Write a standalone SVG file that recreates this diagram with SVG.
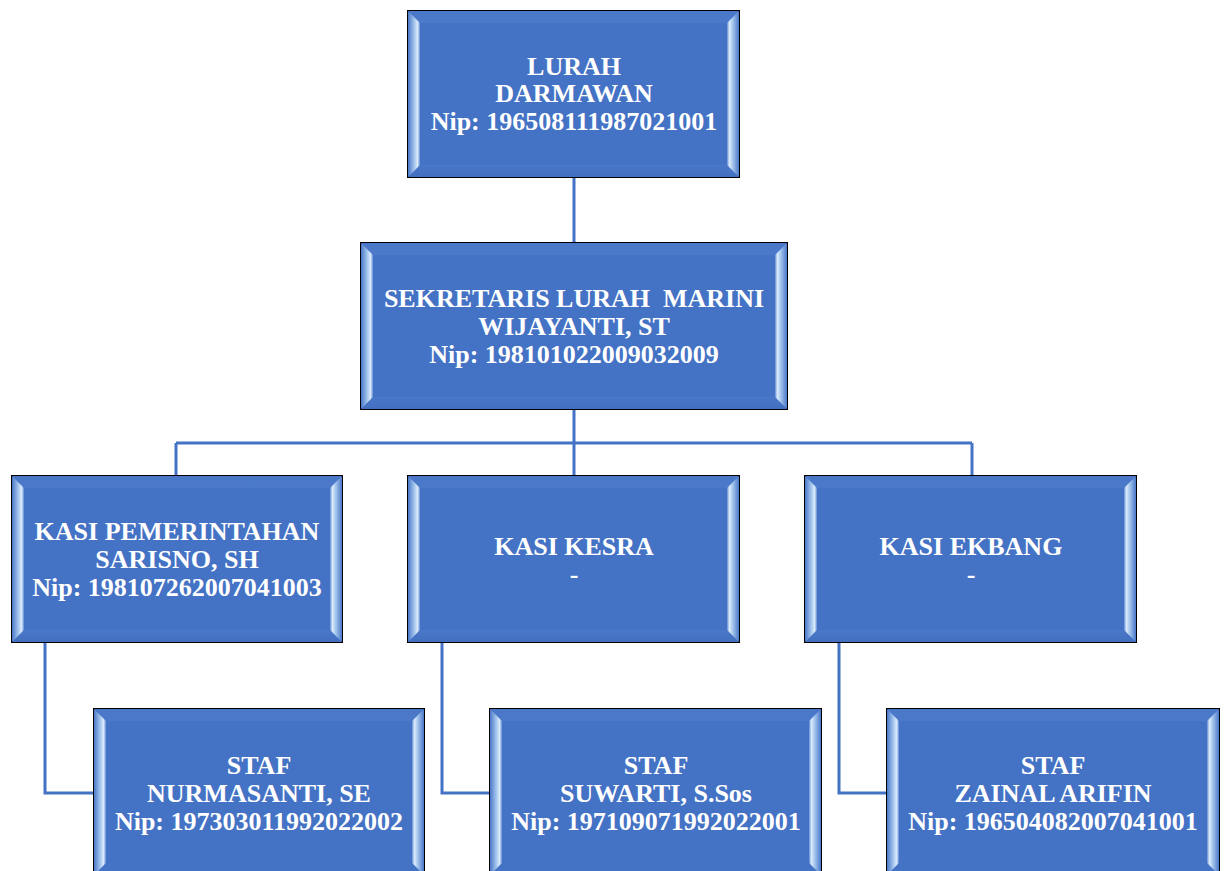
<svg xmlns="http://www.w3.org/2000/svg" width="1226" height="871" viewBox="0 0 1226 871">
<style>
.box{fill:#4472C4;stroke:#000;stroke-width:2}
.bl{fill:url(#gl)}.br{fill:url(#gr)}.bt{fill:url(#gt)}.bb{fill:url(#gb)}
.t{font-family:"Liberation Serif","Times New Roman",serif;font-weight:bold;font-size:26px;fill:#fff;text-anchor:middle;white-space:pre}
.c{fill:none;stroke:#4472C4;stroke-width:3}
</style>
<defs>
<linearGradient id="gl" x1="0" y1="0" x2="1" y2="0"><stop offset="0" stop-color="#4a78c8"/><stop offset="0.55" stop-color="#a9c9ef"/><stop offset="0.8" stop-color="#dcebfb"/><stop offset="1" stop-color="#5f8bd6"/></linearGradient>
<linearGradient id="gr" x1="1" y1="0" x2="0" y2="0"><stop offset="0" stop-color="#4a78c8"/><stop offset="0.55" stop-color="#a9c9ef"/><stop offset="0.8" stop-color="#dcebfb"/><stop offset="1" stop-color="#5f8bd6"/></linearGradient>
<linearGradient id="gt" x1="0" y1="0" x2="0" y2="1"><stop offset="0" stop-color="#4a77c8"/><stop offset="1" stop-color="#4c7ac9"/></linearGradient>
<linearGradient id="gb" x1="0" y1="1" x2="0" y2="0"><stop offset="0" stop-color="#426fbe"/><stop offset="1" stop-color="#4a77c8"/></linearGradient>
</defs>
<g id="connectors">
<path class="c" d="M574,177V243"/>
<path class="c" d="M574,409V476"/>
<path class="c" d="M176,443H972"/>
<path class="c" d="M176,443V476"/>
<path class="c" d="M972,443V476"/>
<path class="c" d="M45,642V793H94"/>
<path class="c" d="M442,642V793H490"/>
<path class="c" d="M839,642V793H887"/>
</g>
<g id="lurah">
<rect class="box" x="408" y="11" width="331" height="166"/>
<polygon class="bt" points="408,11 739,11 727,23 420,23"/>
<polygon class="bb" points="408,177 739,177 727,165 420,165"/>
<polygon class="bl" points="408,11 420,23 420,165 408,177"/>
<polygon class="br" points="739,11 727,23 727,165 739,177"/>
<text class="t" x="574" y="75">LURAH</text>
<text class="t" x="574" y="102">DARMAWAN</text>
<text class="t" x="574" y="130">Nip: 196508111987021001</text>
</g>
<g id="sekretaris">
<rect class="box" x="361" y="243" width="426" height="166"/>
<polygon class="bt" points="361,243 787,243 775,255 373,255"/>
<polygon class="bb" points="361,409 787,409 775,397 373,397"/>
<polygon class="bl" points="361,243 373,255 373,397 361,409"/>
<polygon class="br" points="787,243 775,255 775,397 787,409"/>
<text class="t" x="574" y="307">SEKRETARIS LURAH  MARINI</text>
<text class="t" x="574" y="335">WIJAYANTI, ST</text>
<text class="t" x="574" y="363">Nip: 198101022009032009</text>
</g>
<g id="kasi-pemerintahan">
<rect class="box" x="12" y="476" width="330" height="166"/>
<polygon class="bt" points="12,476 342,476 330,488 24,488"/>
<polygon class="bb" points="12,642 342,642 330,630 24,630"/>
<polygon class="bl" points="12,476 24,488 24,630 12,642"/>
<polygon class="br" points="342,476 330,488 330,630 342,642"/>
<text class="t" x="177" y="540">KASI PEMERINTAHAN</text>
<text class="t" x="177" y="568">SARISNO, SH</text>
<text class="t" x="177" y="596">Nip: 198107262007041003</text>
</g>
<g id="kasi-kesra">
<rect class="box" x="408" y="476" width="331" height="166"/>
<polygon class="bt" points="408,476 739,476 727,488 420,488"/>
<polygon class="bb" points="408,642 739,642 727,630 420,630"/>
<polygon class="bl" points="408,476 420,488 420,630 408,642"/>
<polygon class="br" points="739,476 727,488 727,630 739,642"/>
<text class="t" x="574" y="555">KASI KESRA</text>
<text class="t" x="574" y="583">-</text>
</g>
<g id="kasi-ekbang">
<rect class="box" x="805" y="476" width="331" height="166"/>
<polygon class="bt" points="805,476 1136,476 1124,488 817,488"/>
<polygon class="bb" points="805,642 1136,642 1124,630 817,630"/>
<polygon class="bl" points="805,476 817,488 817,630 805,642"/>
<polygon class="br" points="1136,476 1124,488 1124,630 1136,642"/>
<text class="t" x="971" y="555">KASI EKBANG</text>
<text class="t" x="971" y="583">-</text>
</g>
<g id="staf-1">
<rect class="box" x="94" y="709" width="330" height="166"/>
<polygon class="bt" points="94,709 424,709 412,721 106,721"/>
<polygon class="bl" points="94,709 106,721 106,863 94,875"/>
<polygon class="br" points="424,709 412,721 412,863 424,875"/>
<text class="t" x="259" y="774">STAF</text>
<text class="t" x="259" y="802">NURMASANTI, SE</text>
<text class="t" x="259" y="830">Nip: 197303011992022002</text>
</g>
<g id="staf-2">
<rect class="box" x="490" y="709" width="331" height="166"/>
<polygon class="bt" points="490,709 821,709 809,721 502,721"/>
<polygon class="bl" points="490,709 502,721 502,863 490,875"/>
<polygon class="br" points="821,709 809,721 809,863 821,875"/>
<text class="t" x="656" y="774">STAF</text>
<text class="t" x="656" y="802">SUWARTI, S.Sos</text>
<text class="t" x="656" y="830">Nip: 197109071992022001</text>
</g>
<g id="staf-3">
<rect class="box" x="887" y="709" width="332" height="166"/>
<polygon class="bt" points="887,709 1219,709 1207,721 899,721"/>
<polygon class="bl" points="887,709 899,721 899,863 887,875"/>
<polygon class="br" points="1219,709 1207,721 1207,863 1219,875"/>
<text class="t" x="1053" y="774">STAF</text>
<text class="t" x="1053" y="802">ZAINAL ARIFIN</text>
<text class="t" x="1053" y="830">Nip: 196504082007041001</text>
</g>
</svg>
